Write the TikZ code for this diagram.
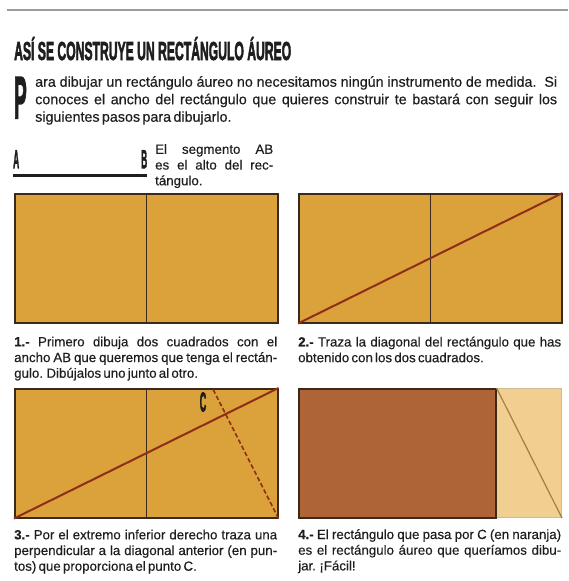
\documentclass[tikz,border=0pt]{standalone}
\usepackage{fontspec}
\usepackage{graphicx}
\setmainfont{Liberation Sans}[WordSpace=0.6,FakeBold=0.3]
\newfontfamily\headfont[FakeBold=3]{Liberation Sans Bold}
\usetikzlibrary{positioning,calc}
\definecolor{gold}{HTML}{DBA13B}
\definecolor{rust}{HTML}{8E2E16}
\definecolor{ink}{HTML}{3B2A1C}
\definecolor{clay}{HTML}{AE6436}
\definecolor{sand}{HTML}{F1CF90}
\definecolor{sandedge}{HTML}{CDBB98}
\definecolor{sandline}{HTML}{A97B45}
\definecolor{rulegray}{HTML}{9C9C9C}
\definecolor{txt}{HTML}{1E1E1E}
\newcommand\narrowcap[3]{\resizebox{#1}{#2}{\headfont #3}}

\begin{document}
\begin{tikzpicture}[x=1pt,y=-1pt,
  panel/.style={draw=ink,fill=gold,line width=1.5pt,minimum width=263pt,minimum height=129pt,inner sep=0pt,anchor=north west},
  split/.style={draw=ink,line width=1.5pt},
  diag/.style={draw=rust,line width=2pt},
  perp/.style={draw=rust,line width=1.6pt,dash pattern=on 4.5pt off 2.5pt},
  steptext/.style={text width=263pt,align=justify,inner sep=0pt,font=\fontsize{13.3}{15.7}\selectfont,text=txt},
  letter/.style={inner sep=0pt,text=txt}]
\useasboundingbox (0,0) rectangle (568,581);
\fill[white] (0,0) rectangle (568,581);
% heading
\coordinate (r1) at (7,10);
\coordinate (r2) at (568,10);
\draw[rulegray,line width=2.5pt] (r1) -- (r2);
\node[letter,anchor=base west] (title) at (14,60) {\resizebox{277pt}{\height}{\headfont\fontsize{26}{26}\selectfont ASÍ SE CONSTRUYE UN RECTÁNGULO ÁUREO}};
\node[letter,anchor=north west] (dropP) at (14,77) {\narrowcap{12.5pt}{41pt}{P}};
\node[anchor=north west,text width=522pt,align=justify,inner sep=0pt,text=txt,font=\fontsize{14.3}{17.5}\selectfont] (intro) at (35,76) {ara dibujar un rectángulo áureo no necesitamos ningún instrumento de medida. Si\linebreak conoces el ancho del rectángulo que quieres construir te bastará con seguir los\linebreak siguientes pasos para dibujarlo.};
% segment AB
\node[letter,anchor=north west] (la) at (13,150) {\narrowcap{6pt}{18pt}{A}};
\node[letter,anchor=north west] (lb) at (141,150) {\narrowcap{6pt}{18pt}{B}};
\draw[txt,line width=3pt] ($(la.south west)+(0,7)$) -- ($(lb.south east)+(0,7)$);
\node[steptext,text width=118pt,anchor=north west] (note) at (155,144) {El segmento AB\linebreak es el alto del rec-\linebreak tángulo.};
% step 1
\node[panel] (p1) at (14,193) {};
\draw[split] (p1.north) -- (p1.south);
\node[steptext,below=13pt of p1.south west,anchor=north west] (t1) {\textbf{1.-} Primero dibuja dos cuadrados con el\linebreak ancho AB que queremos que tenga el rectán-\linebreak gulo. Dibújalos uno junto al otro.};
% step 2
\node[panel] (p2) at (298,193) {};
\draw[split] (p2.north) -- (p2.south);
\draw[diag] (p2.south west) -- (p2.north east);
\node[steptext,below=13pt of p2.south west,anchor=north west] (t2) {\textbf{2.-} Traza la diagonal del rectángulo que has\linebreak obtenido con los dos cuadrados.};
% step 3
\node[panel] (p3) at (14,388) {};
\draw[split] (p3.north) -- (p3.south);
\draw[diag] (p3.south west) -- (p3.north east);
\coordinate (c) at ($(p3.north west)!0.75!(p3.north east)$);
\draw[perp] (p3.south east) -- (c);
\node[letter] (lc) at (203,402) {\narrowcap{6.5pt}{19pt}{C}};
\node[steptext,below=11pt of p3.south west,anchor=north west] (t3) {\textbf{3.-} Por el extremo inferior derecho traza una\linebreak perpendicular a la diagonal anterior (en pun-\linebreak tos) que proporciona el punto C.};
% step 4
\node[panel,fill=sand,draw=sandedge,line width=1pt] (p4) at (298,388) {};
\node[panel,fill=clay,minimum width=197pt] (gold) at (p4.north west) {};
\draw[sandline,line width=1.2pt] (gold.north east) -- (p4.south east);
\node[steptext,below=11pt of p4.south west,anchor=north west] (t4) {\textbf{4.-} El rectángulo que pasa por C (en naranja)\linebreak es el rectángulo áureo que queríamos dibu-\linebreak jar. ¡Fácil!};
\end{tikzpicture}
\end{document}
